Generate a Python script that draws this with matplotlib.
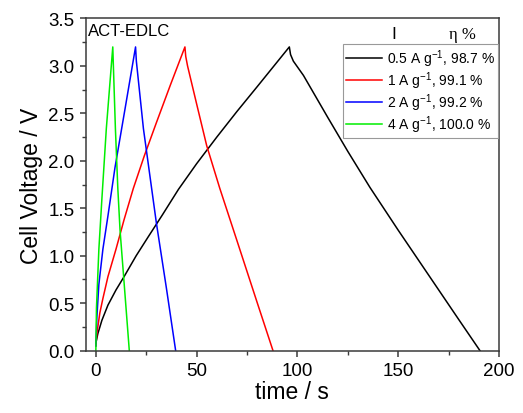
import numpy as np
import matplotlib
matplotlib.use('Agg')
import matplotlib.pyplot as plt
from matplotlib.ticker import MultipleLocator

plt.rcParams['font.family'] = ['Liberation Sans', 'DejaVu Sans']
plt.rcParams['mathtext.fontset'] = 'custom'
plt.rcParams['mathtext.rm'] = 'Liberation Sans'
plt.rcParams['mathtext.default'] = 'regular'

# GCD curves (time / s, voltage / V)
t_05 = [0, 1, 3, 6, 10, 14, 20, 26, 33, 41, 50, 60, 70, 80, 88, 96,
        96.6, 98, 103, 115, 125, 136, 150, 165, 180, 190.6]
v_05 = [0.08, 0.18, 0.32, 0.48, 0.64, 0.78, 1.0, 1.2, 1.43, 1.7, 1.97, 2.25, 2.52, 2.78, 2.99, 3.2,
        3.12, 3.05, 2.9, 2.46, 2.1, 1.72, 1.27, 0.8, 0.33, 0.0]

t_1 = [0, 0.5, 2, 3.5, 6, 10, 14, 18.6, 24, 30, 37, 44.2,
       44.6, 45.5, 50, 55, 61.5, 70, 80, 87.9]
v_1 = [0.05, 0.18, 0.4, 0.55, 0.78, 1.07, 1.38, 1.71, 2.05, 2.4, 2.8, 3.2,
       3.1, 3.0, 2.6, 2.16, 1.71, 1.16, 0.51, 0.0]

t_2 = [0, 0.5, 1.5, 3.5, 6, 9.5, 14.5, 19.7, 20.1, 23.6, 30, 35, 39.6]
v_2 = [0.05, 0.35, 0.7, 1.07, 1.42, 1.93, 2.55, 3.2, 3.05, 2.34, 1.35, 0.66, 0.0]

t_4 = [0, 0.3, 1.5, 3, 5.2, 8.4, 8.7, 9.7, 10.9, 12, 14, 16.6]
v_4 = [0.0, 0.45, 1.07, 1.6, 2.34, 3.2, 3.0, 2.34, 1.71, 1.27, 0.72, 0.0]

labels = ['0.5 A g$^{-1}$, 98.7 %', '1 A g$^{-1}$, 99.1 %',
          '2 A g$^{-1}$, 99.2 %', '4 A g$^{-1}$, 100.0 %']
colors = ['black', '#ff0000', '#0000ff', '#00ee00']

fig = plt.figure(figsize=(5.23, 4.14), dpi=100)
ax = fig.add_axes([0.164, 0.1505, 0.790, 0.8025])

for t, v, lab, c in zip([t_05, t_1, t_2, t_4], [v_05, v_1, v_2, v_4], labels, colors):
    ax.plot(t, v, color=c, lw=1.1, label=lab)

ax.set_xlim(-5, 200)
ax.set_ylim(0, 3.5)
ax.xaxis.set_major_locator(MultipleLocator(50))
ax.xaxis.set_minor_locator(MultipleLocator(25))
ax.yaxis.set_major_locator(MultipleLocator(0.5))
ax.yaxis.set_minor_locator(MultipleLocator(0.25))
ax.yaxis.set_major_formatter(matplotlib.ticker.FormatStrFormatter('%.1f'))

for s in ax.spines.values():
    s.set_color('#3a3a3a')
    s.set_linewidth(1.1)
ax.tick_params(which='major', direction='out', length=4.5, width=1.1,
               color='#3a3a3a', labelsize=13.5, top=False, right=False)
ax.tick_params(which='minor', direction='out', length=2.8, width=1.0,
               color='#3a3a3a', top=False, right=False)

ax.set_xlabel('time / s', fontsize=16.5, labelpad=1)
ax.set_ylabel('Cell Voltage / V', fontsize=16.5, labelpad=4)

ax.text(0.005, 0.985, 'ACT-EDLC', transform=ax.transAxes, fontsize=12,
        ha='left', va='top')
ax.text(0.745, 0.955, 'I', transform=ax.transAxes, fontsize=12.5,
        ha='center', va='center')
ax.text(0.912, 0.953, 'η %', transform=ax.transAxes, fontsize=12,
        ha='center', va='center', family=['Liberation Serif', 'DejaVu Serif'])

leg = ax.legend(loc='upper right', bbox_to_anchor=(0.998, 0.923),
                borderaxespad=0, fontsize=10, handlelength=2.6,
                handletextpad=0.3, labelspacing=0.02, borderpad=0.25,
                fancybox=False, framealpha=1, edgecolor='#999999')
leg.get_frame().set_linewidth(0.8)

fig.savefig('out.png', dpi=100)
